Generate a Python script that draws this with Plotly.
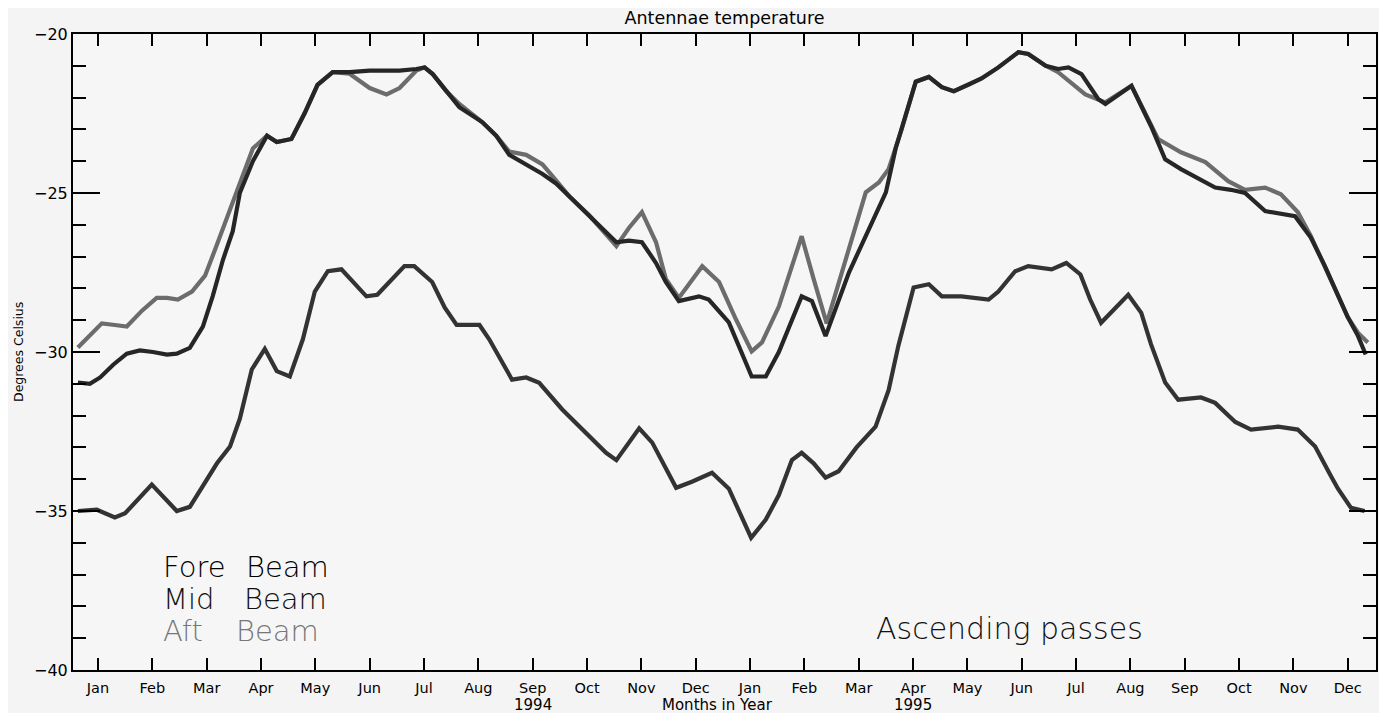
import plotly.graph_objects as go

# ---------------- data (x = month index, 0 = Jan 1994 ... 23 = Dec 1995) -------------
months = ["Jan", "Feb", "Mar", "Apr", "May", "Jun", "Jul", "Aug", "Sep", "Oct", "Nov", "Dec"]
tick_labels = months + months
tick_positions = list(range(24))
y_ticks = [-40, -35, -30, -25, -20]

fore_x = [-0.37, -0.15, 0.04, 0.28, 0.53, 0.77, 1.01, 1.27, 1.45, 1.69,
          1.93, 2.11, 2.30, 2.48, 2.61, 2.85, 3.11, 3.29, 3.56, 3.80,
          4.04, 4.32, 4.63, 5.00, 5.31, 5.55, 5.86, 6.01, 6.16, 6.41,
          6.65, 7.07, 7.33, 7.57, 7.88, 8.18, 8.43, 8.67, 8.98, 9.22,
          9.54, 9.77, 10.01, 10.27, 10.45, 10.69, 11.06, 11.24, 11.61, 12.03,
          12.29, 12.53, 12.77, 12.95, 13.14, 13.39, 13.82, 14.18, 14.50, 14.68,
          14.79, 15.05, 15.29, 15.53, 15.75, 16.02, 16.26, 16.57, 16.94, 17.12,
          17.44, 17.67, 17.86, 18.10, 18.41, 18.54, 18.78, 19.02, 19.38, 19.64,
          19.93, 20.25, 20.56, 20.85, 21.11, 21.48, 21.84, 22.03, 22.32, 22.58,
          23.00, 23.19, 23.33]
fore_y = [-30.96, -31.0, -30.8, -30.4, -30.05, -29.95, -30.0, -30.08, -30.05, -29.87,
          -29.2, -28.25, -27.1, -26.2, -25.0, -24.0, -23.2, -23.4, -23.3, -22.5,
          -21.6, -21.2, -21.2, -21.15, -21.15, -21.15, -21.1, -21.05, -21.26, -21.8,
          -22.3, -22.77, -23.2, -23.8, -24.1, -24.4, -24.7, -25.1, -25.6, -26.0,
          -26.55, -26.5, -26.55, -27.2, -27.8, -28.4, -28.25, -28.35, -29.07, -30.77,
          -30.77, -30.0, -29.0, -28.25, -28.4, -29.5, -27.5, -26.14, -24.98, -23.6,
          -23.0, -21.5, -21.35, -21.67, -21.8, -21.6, -21.4, -21.05, -20.57, -20.63,
          -21.0, -21.1, -21.05, -21.26, -22.05, -22.2, -21.9, -21.63, -22.9, -23.94,
          -24.25, -24.55, -24.83, -24.9, -25.0, -25.57, -25.67, -25.73, -26.4, -27.3,
          -28.9, -29.5, -30.08]

mid_x = [-0.37, -0.02, 0.31, 0.50, 0.99, 1.45, 1.69, 1.97, 2.19, 2.43,
         2.61, 2.83, 3.07, 3.29, 3.53, 3.77, 3.99, 4.23, 4.48, 4.94,
         5.14, 5.64, 5.82, 6.15, 6.38, 6.60, 7.02, 7.20, 7.62, 7.88,
         8.12, 8.54, 8.86, 9.35, 9.54, 9.96, 10.20, 10.64, 10.93, 11.30,
         11.61, 12.02, 12.29, 12.53, 12.77, 12.95, 13.17, 13.39, 13.63, 13.96,
         14.31, 14.55, 14.73, 15.01, 15.29, 15.53, 15.89, 16.39, 16.57, 16.88,
         17.12, 17.55, 17.82, 18.08, 18.26, 18.46, 18.96, 19.20, 19.38, 19.64,
         19.88, 20.30, 20.56, 20.93, 21.22, 21.72, 22.08, 22.40, 22.69, 22.82,
         23.06, 23.31]
mid_y = [-35.0, -34.96, -35.2, -35.07, -34.17, -35.0, -34.87, -34.1, -33.5, -32.97,
         -32.1, -30.55, -29.9, -30.6, -30.77, -29.6, -28.1, -27.46, -27.4, -28.25,
         -28.2, -27.3, -27.3, -27.8, -28.6, -29.15, -29.15, -29.6, -30.87, -30.8,
         -30.97, -31.8, -32.35, -33.17, -33.4, -32.4, -32.85, -34.27, -34.08, -33.8,
         -34.3, -35.84, -35.27, -34.5, -33.4, -33.17, -33.5, -33.95, -33.75, -33.0,
         -32.35, -31.2, -29.8, -27.97, -27.87, -28.25, -28.25, -28.35, -28.1, -27.46,
         -27.3, -27.4, -27.2, -27.56, -28.35, -29.08, -28.2, -28.77, -29.76, -30.96,
         -31.5, -31.43, -31.6, -32.2, -32.44, -32.35, -32.44, -32.97, -33.9, -34.3,
         -34.9, -35.0]

aft_x = [-0.37, -0.15, 0.07, 0.31, 0.53, 0.81, 1.08, 1.27, 1.47, 1.73,
         1.97, 2.15, 2.30, 2.61, 2.85, 3.11, 3.29, 3.56, 3.80, 4.04,
         4.32, 4.63, 5.00, 5.31, 5.55, 5.86, 6.01, 6.16, 6.41, 6.65,
         7.07, 7.33, 7.57, 7.88, 8.18, 8.43, 8.67, 9.04, 9.54, 9.77,
         10.01, 10.27, 10.45, 10.69, 11.12, 11.43, 11.74, 12.03, 12.22, 12.53,
         12.77, 12.95, 13.17, 13.41, 14.13, 14.37, 14.55, 14.79, 15.05, 15.29,
         15.53, 15.75, 16.02, 16.26, 16.57, 16.94, 17.12, 17.44, 17.67, 18.17,
         18.54, 19.02, 19.51, 19.93, 20.38, 20.80, 21.11, 21.48, 21.77, 22.08,
         22.32, 22.58, 23.00, 23.19, 23.37]
aft_y = [-29.86, -29.5, -29.1, -29.15, -29.2, -28.7, -28.3, -28.3, -28.35, -28.1,
         -27.6, -26.8, -26.1, -24.7, -23.6, -23.2, -23.4, -23.3, -22.5, -21.6,
         -21.2, -21.25, -21.7, -21.9, -21.7, -21.15, -21.05, -21.26, -21.8, -22.2,
         -22.77, -23.2, -23.7, -23.8, -24.1, -24.6, -25.1, -25.7, -26.67, -26.1,
         -25.6, -26.55, -27.7, -28.3, -27.3, -27.8, -28.97, -29.98, -29.7, -28.57,
         -27.3, -26.36, -27.7, -29.1, -24.98, -24.67, -24.25, -23.0, -21.5, -21.35,
         -21.67, -21.8, -21.6, -21.4, -21.05, -20.57, -20.63, -21.0, -21.2, -21.9,
         -22.15, -21.63, -23.3, -23.72, -24.03, -24.63, -24.9, -24.83, -25.04, -25.6,
         -26.35, -27.3, -28.9, -29.4, -29.7]

# ---------------- styling ----------------
FONT = "DejaVu Sans"
c_fore, c_mid, c_aft = "#262626", "#333333", "#6c6c6c"

fig = go.Figure()
fig.add_trace(go.Scatter(x=mid_x, y=mid_y, mode="lines", name="Mid Beam",
                         line=dict(color=c_mid, width=4.2)))
fig.add_trace(go.Scatter(x=aft_x, y=aft_y, mode="lines", name="Aft Beam",
                         line=dict(color=c_aft, width=4.2)))
fig.add_trace(go.Scatter(x=fore_x, y=fore_y, mode="lines", name="Fore Beam",
                         line=dict(color=c_fore, width=4.2)))

# page body adds an 8px offset; figure is sized so the plot frame lands where the reference has it
W, H = 1379, 705
fig.update_layout(
    width=W, height=H,
    margin=dict(l=65, r=9, t=26, b=43),
    paper_bgcolor="#f4f4f4", plot_bgcolor="#f6f6f6",
    showlegend=False,
    font=dict(family=FONT, color="black"),
    title=dict(text="Antennae temperature", x=0.5, xref="paper", xanchor="center",
               y=1 - 10 / H, yref="container", yanchor="middle",
               font=dict(family=FONT, size=17.5, color="black")),
)

fig.update_xaxes(
    range=[-0.46, 23.52], tickmode="array", tickvals=tick_positions, ticktext=tick_labels,
    ticks="inside", ticklen=12, tickwidth=1.5, tickcolor="black", ticklabelstandoff=4,
    showline=True, linecolor="black", linewidth=2, mirror="ticks",
    showgrid=False, zeroline=False, tickfont=dict(size=14.5, family=FONT),
)
fig.update_yaxes(
    range=[-40, -20], tickmode="array", tickvals=y_ticks,
    ticks="inside", ticklen=27, tickwidth=1.5, tickcolor="black",
    minor=dict(dtick=1, ticks="inside", ticklen=13, tickwidth=1.5, tickcolor="black", showgrid=False),
    showline=True, linecolor="black", linewidth=2, mirror="ticks",
    showgrid=False, zeroline=False, tickfont=dict(size=16, family=FONT),
)

ann = []
ann.append(dict(text="Degrees Celsius", xref="paper", yref="paper", x=0, y=0.5, xshift=-55,
                xanchor="center", yanchor="middle",
                textangle=-90, showarrow=False, font=dict(size=12.5, family=FONT)))
ann.append(dict(text="Months in Year", xref="x", yref="paper", x=11.4, y=0, yshift=-35,
                xanchor="center", yanchor="middle",
                showarrow=False, font=dict(size=15, family=FONT)))
for yr, pos in (("1994", 8), ("1995", 15)):
    ann.append(dict(text=yr, xref="x", yref="paper", x=pos, y=0, yshift=-35,
                    xanchor="center", yanchor="middle",
                    showarrow=False, font=dict(size=15, family=FONT)))

# in-plot legend text
legend_rows = [("Fore", "Beam", -36.76, "#000000", 2.70),
               ("Mid", "Beam", -37.77, "#111111", 2.66),
               ("Aft", "Beam", -38.78, "#777777", 2.52)]
for w1, w2, yv, col, xb in legend_rows:
    ann.append(dict(text=w1, x=1.18, y=yv, xref="x", yref="y", xanchor="left", yanchor="middle",
                    borderpad=0, showarrow=False,
                    font=dict(size=29, family=FONT, color=col, weight=300)))
    ann.append(dict(text=w2, x=xb, y=yv, xref="x", yref="y", xanchor="left", yanchor="middle",
                    borderpad=0, showarrow=False,
                    font=dict(size=29, family=FONT, color=col, weight=300)))

ann.append(dict(text="Ascending passes", x=14.28, y=-38.68, xref="x", yref="y",
                xanchor="left", yanchor="middle", showarrow=False,
                font=dict(size=30, family=FONT, color="#111111", weight=300)))

fig.update_layout(annotations=ann)
fig.write_html("out.html")
